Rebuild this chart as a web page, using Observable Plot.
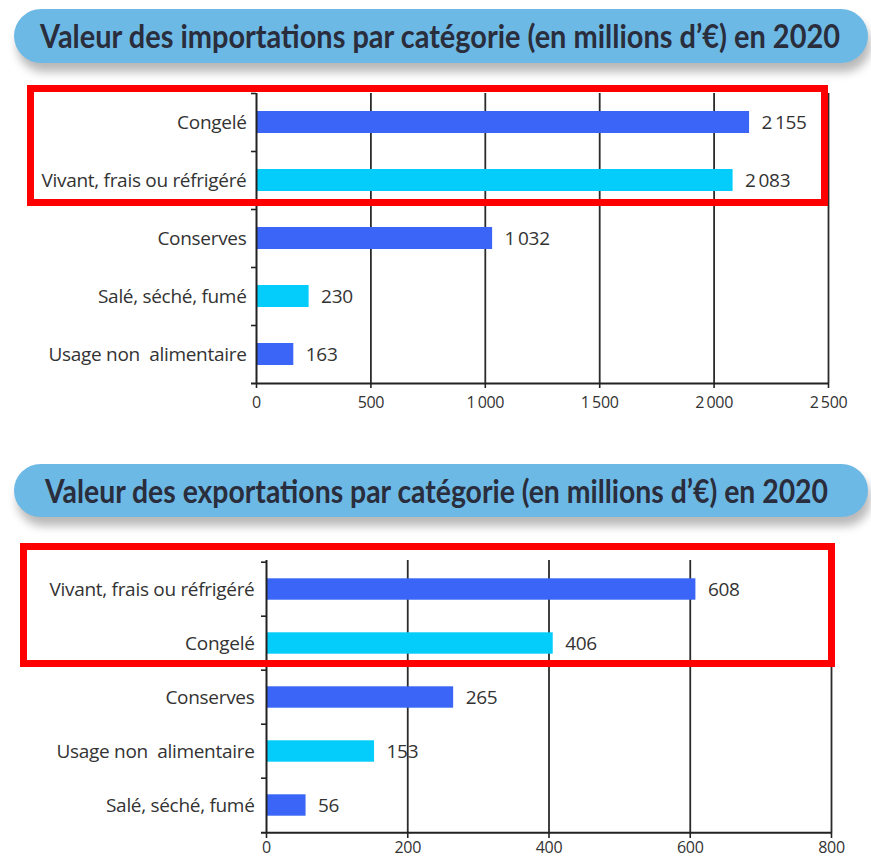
<!DOCTYPE html>
<html><head><meta charset="utf-8">
<script src="https://cdn.jsdelivr.net/npm/d3@7"></script>
<script src="https://cdn.jsdelivr.net/npm/@observablehq/plot@0.6"></script>
<style>
html,body{margin:0;padding:0;background:#fff;overflow:hidden}
#page{position:relative;width:871px;height:859px;overflow:hidden;background:#fff}
.pill{position:absolute;background:#6db9e6;border-radius:27px;box-shadow:3px 9px 10px rgba(0,0,0,0.28)}
.pill span{position:absolute;top:50%;white-space:nowrap;font-family:Lato,sans-serif;font-weight:700;font-size:32px;color:#2a2d3c;transform-origin:left center;display:inline-block;line-height:1}
.chart{position:absolute;left:0}
.chart svg text{letter-spacing:-0.3px}
.hl{position:absolute;border:7px solid #ff0000;box-sizing:border-box;pointer-events:none}
</style>
</head>
<body>
<div id="page"></div>
<script>
// ---- data ----
const impTitle = "Valeur des importations par catégorie (en millions d’€) en 2020";
const impCategories = ["Congelé", "Vivant, frais ou réfrigéré", "Conserves", "Salé, séché, fumé", "Usage non\u00a0 alimentaire"];
const impValues = [2155, 2083, 1032, 230, 163];
const impTicks = [0, 500, 1000, 1500, 2000, 2500];

const expTitle = "Valeur des exportations par catégorie (en millions d’€) en 2020";
const expCategories = ["Vivant, frais ou réfrigéré", "Congelé", "Conserves", "Usage non\u00a0 alimentaire", "Salé, séché, fumé"];
const expValues = [608, 406, 265, 153, 56];
const expTicks = [0, 200, 400, 600, 800];

const BLUE = "#3a65f7";
const CYAN = "#05cdfb";
const fmt = d3.formatLocale({thousands: "\u2009", grouping: [3], decimal: ","}).format(",");

const page = document.getElementById("page");

function pill(text, left, top, width, height, textLeft, textWidth) {
  const p = document.createElement("div");
  p.className = "pill";
  Object.assign(p.style, {left: left + "px", top: top + "px", width: width + "px", height: height + "px"});
  const s = document.createElement("span");
  s.textContent = text;
  s.style.left = textLeft + "px";
  p.appendChild(s);
  page.appendChild(p);
  const w = s.getBoundingClientRect().width;
  s.style.transform = `translateY(-50%) scaleX(${textWidth / w})`;
}

function barChart({cats, vals, ticks, marginLeft, marginRight, marginTop, marginBottom, height, labelPad, tickPad}) {
  const data = cats.map((c, i) => ({cat: c, value: vals[i], i}));
  const n = cats.length;
  const step = (height - marginTop - marginBottom) / n;
  const inset = (step - 22) / 2;
  const maxX = ticks[ticks.length - 1];
  const pxPerUnit = (871 - marginLeft - marginRight) / maxX;
  return Plot.plot({
    width: 871, height, marginLeft, marginRight, marginTop, marginBottom,
    style: {fontFamily: "'Open Sans', sans-serif", color: "#333", background: "transparent", overflow: "visible"},
    x: {domain: [0, maxX], axis: null},
    y: {domain: cats, padding: 0, axis: null},
    marks: [
      Plot.gridX(ticks.slice(1), {stroke: "#2b2b2b", strokeOpacity: 1, strokeWidth: 1.8}),
      Plot.barX(data, {x: "value", y: "cat", fill: d => d.i % 2 ? CYAN : BLUE, insetTop: inset, insetBottom: inset}),
      Plot.ruleX([0], {stroke: "#222", strokeWidth: 2}),
      Plot.ruleY([cats[n - 1]], {x1: -5 / pxPerUnit, x2: maxX, dy: step / 2, stroke: "#222", strokeWidth: 2}),
      Plot.axisY({tickSize: 5, text: null, label: null, dy: -step / 2, stroke: "#222", strokeWidth: 1.6}),
      Plot.axisY({tickSize: 0, tickPadding: labelPad, label: null, fontSize: 19, fill: "#333"}),
      Plot.axisX(ticks, {tickSize: 5, tickPadding: tickPad, label: null, fontSize: 16, tickFormat: fmt, stroke: "#222", strokeWidth: 1.6, fill: "#333"}),
      Plot.text(data, {x: "value", y: "cat", text: d => fmt(d.value), dx: 12, textAnchor: "start", fontSize: 19, fill: "#333"})
    ]
  });
}

function place(node, top) {
  const d = document.createElement("div");
  d.className = "chart";
  d.style.top = top + "px";
  d.appendChild(node);
  page.appendChild(d);
}

function highlight(left, top, width, height) {
  const h = document.createElement("div");
  h.className = "hl";
  Object.assign(h.style, {left: left + "px", top: top + "px", width: width + "px", height: height + "px"});
  page.appendChild(h);
}

pill(impTitle, 14, 9, 854, 54, 26, 800);
place(barChart({cats: impCategories, vals: impValues, ticks: impTicks,
  marginLeft: 256, marginRight: 43, marginTop: 23, marginBottom: 32, height: 345, labelPad: 10, tickPad: 8}), 70);
highlight(27, 85, 801, 121);

pill(expTitle, 14, 464, 854, 53, 31, 783);
place(barChart({cats: expCategories, vals: expValues, ticks: expTicks,
  marginLeft: 266, marginRight: 40, marginTop: 20, marginBottom: 26, height: 319, labelPad: 12, tickPad: 3}), 540);
highlight(20, 543, 815, 124);
</script>
</body></html>
